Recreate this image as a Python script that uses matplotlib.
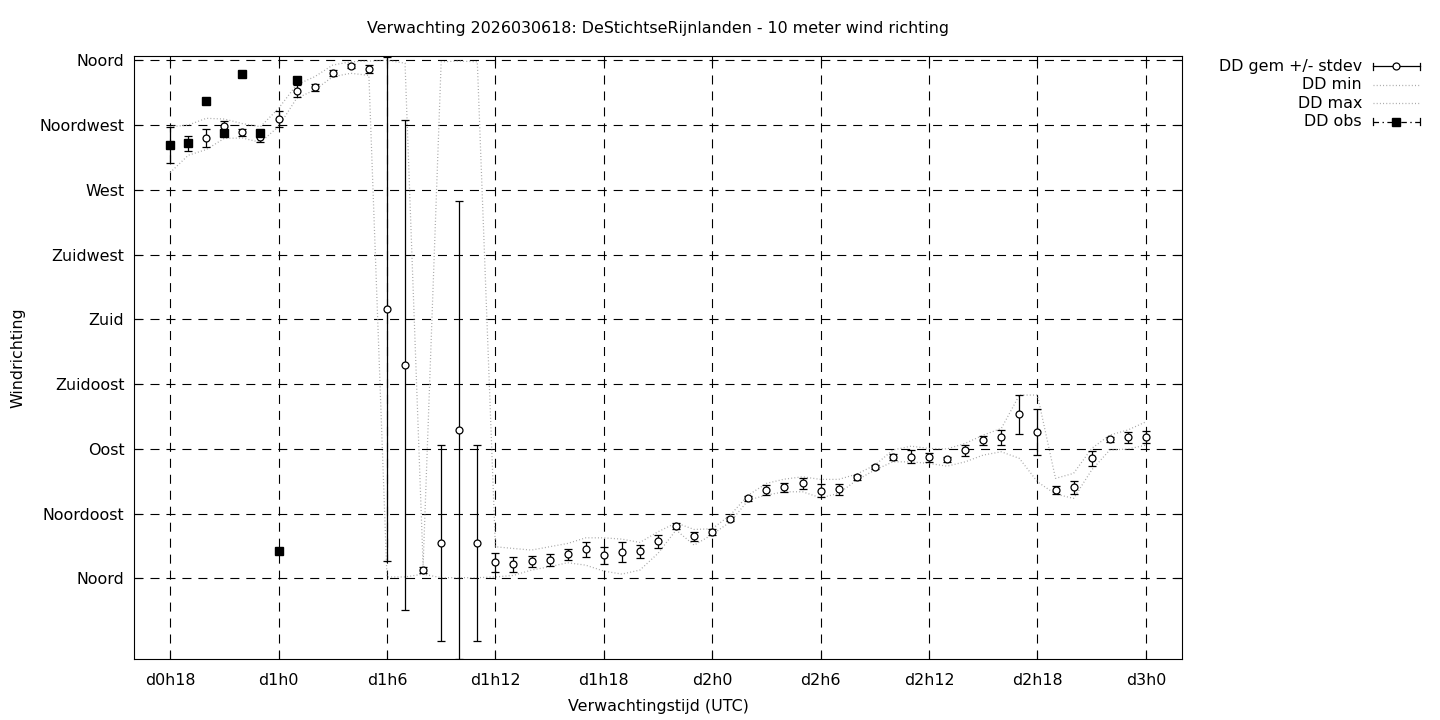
import matplotlib
matplotlib.use('Agg')
import matplotlib.pyplot as plt

plt.rcParams['font.family'] = 'DejaVu Sans'
plt.rcParams['font.size'] = 11.4
plt.rcParams['lines.scale_dashes'] = False

# forecast hours (0 = d0h0)
hours = list(range(18, 73))
dd_gem = [300.9, 302.3, 306.2, 314.1, 310.0, 306.5, 319.2, 338.9, 341.2, 351.2,
          356.0, 354.0, 187.2, 148.2, 5.8, 24.8, 102.9, 24.8, 11.1, 9.7,
          11.8, 12.5, 16.7, 20.2, 16.0, 18.1, 18.8, 25.7, 36.3, 29.4,
          32.1, 41.1, 55.6, 61.4, 63.2, 66.0, 60.9, 61.9, 70.2, 77.6,
          84.1, 84.5, 84.1, 82.7, 89.2, 95.9, 98.0, 114.0, 101.5, 61.4,
          63.2, 83.4, 96.6, 98.0, 98.4]
dd_std = [12.5, 5.3, 6.4, 4.0, 2.3, 3.1, 5.3, 4.1, 2.4, 2.2,
          1.6, 3.0, 175.0, 170.0, 2.3, 68.0, 159.0, 68.0, 6.4, 5.4,
          4.0, 4.2, 3.6, 5.1, 6.1, 6.9, 4.6, 4.6, 2.3, 3.1,
          2.0, 1.5, 1.5, 3.5, 2.9, 3.8, 4.6, 3.6, 1.8, 1.5,
          2.0, 4.4, 3.0, 2.0, 3.8, 2.9, 5.4, 13.4, 15.9, 2.9,
          4.6, 5.2, 2.0, 3.6, 4.2]
dd_min = [282.0, 294.0, 298.0, 305.8, 306.0, 303.0, 314.0, 333.6, 339.4, 348.6,
          351.0, 349.5, 1.0, 1.0, 3.0, 0.5, 0.5, 0.5, 1.0, 2.1,
          5.8, 8.1, 10.9, 9.2, 5.1, 3.0, 5.8, 17.4, 33.6, 23.1,
          30.5, 39.3, 54.4, 57.9, 60.2, 60.2, 56.0, 59.1, 68.3, 75.3,
          81.0, 81.0, 79.9, 78.0, 81.0, 85.7, 88.0, 83.4, 67.1, 58.6,
          55.6, 75.3, 89.2, 89.9, 92.6]
dd_max = [313.9, 315.0, 319.7, 319.2, 316.0, 313.9, 326.6, 343.0, 348.6, 356.7,
          359.0, 359.5, 360.0, 358.0, 9.0, 359.0, 359.5, 359.0, 22.0, 20.8,
          19.7, 22.0, 24.3, 28.2, 28.2, 27.3, 25.0, 32.4, 38.6, 34.0,
          34.5, 44.0, 57.9, 66.0, 69.0, 70.6, 68.8, 68.8, 72.5, 78.7,
          89.2, 91.9, 90.3, 90.0, 93.8, 99.6, 104.2, 127.4, 127.4, 69.5,
          73.0, 90.3, 99.6, 103.1, 108.8]
obs_hours = list(range(18, 26))
dd_obs = [300.9, 302.3, 331.7, 309.3, 350.7, 309.3, 19.0, 346.1]

xticks = [18, 24, 30, 36, 42, 48, 54, 60, 66, 72]
xtick_labels = ['d0h18', 'd1h0', 'd1h6', 'd1h12', 'd1h18',
                'd2h0', 'd2h6', 'd2h12', 'd2h18', 'd3h0']
yticks = [0, 45, 90, 135, 180, 225, 270, 315, 360]
ytick_labels = ['Noord', 'Noordoost', 'Oost', 'Zuidoost', 'Zuid',
                'Zuidwest', 'West', 'Noordwest', 'Noord']

W, H = 1440, 720
fig = plt.figure(figsize=(14.4, 7.2), dpi=100)
ax = fig.add_axes([134 / W, 1 - 659 / H, (1182 - 134) / W, (659 - 56) / H])

dotted = (0, (0.7, 1.6))
grey = '#a6a6a6'
ax.plot(hours, dd_min, ls=dotted, color=grey, lw=0.9, zorder=3)
ax.plot(hours, dd_max, ls=dotted, color=grey, lw=0.9, zorder=3)
ax.errorbar(hours, dd_gem, yerr=dd_std, fmt='o', mfc='white', mec='black',
            ms=5, mew=0.9, ecolor='black', elinewidth=0.9, capsize=3,
            capthick=0.9, zorder=5)
ax.plot(obs_hours, dd_obs, 's', color='black', ms=5.5, zorder=6)

ax.set_xlim(16, 74)
ax.set_ylim(-56, 363)
ax.set_xticks(xticks)
ax.set_xticklabels(xtick_labels)
ax.set_yticks(yticks)
ax.set_yticklabels(ytick_labels)
ax.grid(True, color='black', ls=(0, (6.5, 5)), lw=0.8)
ax.set_axisbelow(True)
ax.tick_params(direction='in', length=6, width=0.8, top=True, right=True,
               labelsize=11.4)
ax.tick_params(axis='x', pad=10)
ax.tick_params(axis='y', pad=7)
for s in ax.spines.values():
    s.set_linewidth(0.8)

fig.text(658 / W, 1 - 29 / H,
         'Verwachting 2026030618: DeStichtseRijnlanden - 10 meter wind richting',
         ha='center', va='center')
fig.text(658 / W, 1 - 707 / H, 'Verwachtingstijd (UTC)',
         ha='center', va='center')
fig.text(18 / W, 1 - 358 / H, 'Windrichting', rotation=90,
         ha='center', va='center')

# legend drawn gnuplot style
lax = fig.add_axes([1190 / W, 1 - 140 / H, 250 / W, 90 / H])
lax.set_xlim(1190, 1440)
lax.set_ylim(140, 50)
lax.axis('off')
rows = [66, 84.5, 103, 121.5]
x0, x1, xm = 1373, 1420, 1396
names = ['DD gem +/- stdev', 'DD min', 'DD max', 'DD obs']
for y, name in zip(rows, names):
    lax.text(1362, y, name, ha='right', va='center')
lax.plot([x0, x1], [rows[0]] * 2, color='black', lw=0.9)
for xe in (x0, x1):
    lax.plot([xe, xe], [rows[0] - 3.5, rows[0] + 3.5], color='black', lw=0.9)
    lax.plot([xe, xe], [rows[3] - 3.5, rows[3] + 3.5], color='black', lw=0.9)
lax.plot(xm, rows[0], 'o', mfc='white', mec='black', ms=5, mew=0.9)
lax.plot([x0, x1], [rows[1]] * 2, ls=dotted, color=grey, lw=0.9)
lax.plot([x0, x1], [rows[2]] * 2, ls=dotted, color=grey, lw=0.9)
lax.plot([x0, x1], [rows[3]] * 2, color='black', lw=0.9,
         ls=(0, (4, 2.5, 1, 2.5)))
lax.plot(xm, rows[3], 's', color='black', ms=5.5)

fig.savefig('out.png', dpi=100)
